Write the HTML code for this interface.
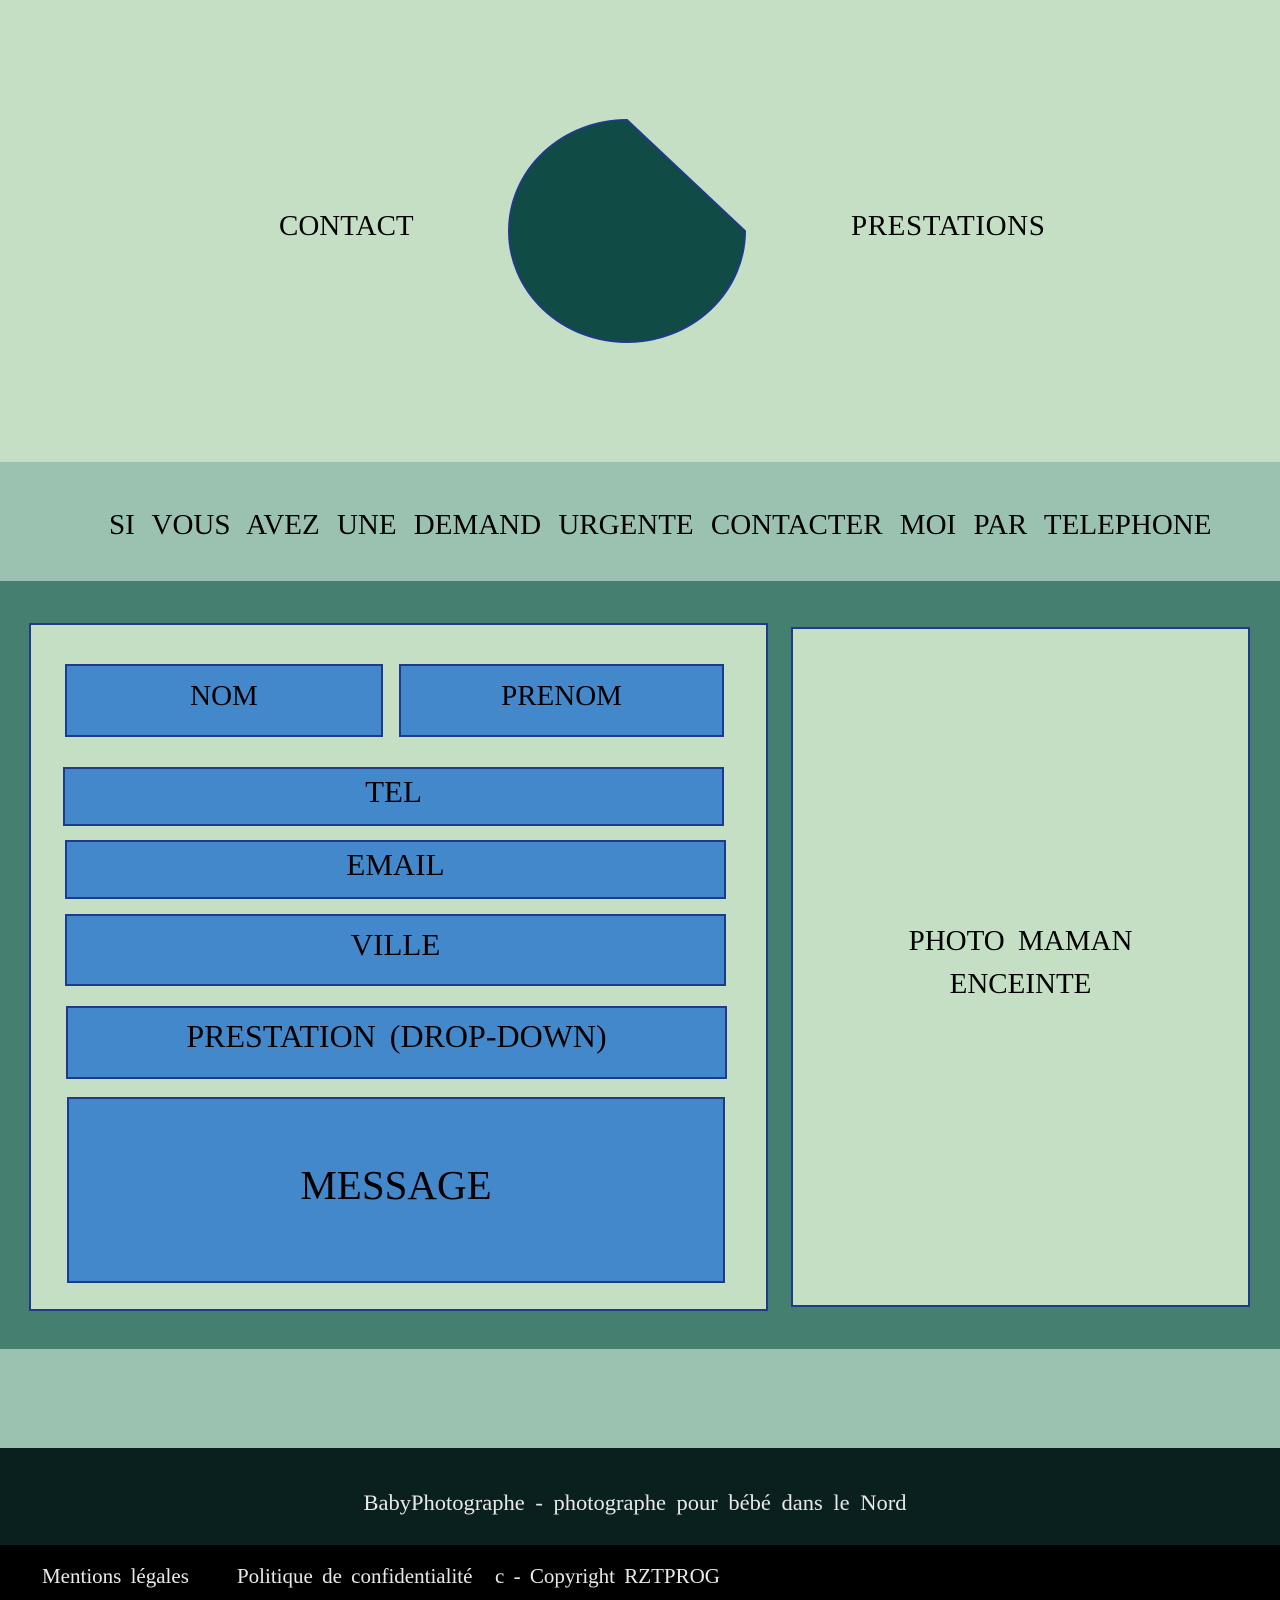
<!DOCTYPE html>
<html><head><meta charset="utf-8"><style>
*{margin:0;padding:0;box-sizing:border-box}
body{width:1280px;height:1600px;position:relative;overflow:hidden;font-family:"Liberation Serif",serif;color:#000}
.a{position:absolute}
.band{position:absolute;left:0;width:1280px}
.f{position:absolute;background:#4488cc;border:2px solid #1f3a8a;text-align:center;font-size:30px}
.t{position:absolute;white-space:nowrap;word-spacing:6px}
</style></head><body>
<div class="band" style="top:0;height:462px;background:#c5dfc5"></div>
<div class="band" style="top:462px;height:119px;background:#9bc2b0"></div>
<div class="band" style="top:581px;height:768px;background:#457f70"></div>
<div class="band" style="top:1349px;height:99px;background:#9bc2b0"></div>
<div class="band" style="top:1448px;height:97px;background:#0a201f"></div>
<div class="band" style="top:1545px;height:55px;background:#000"></div>

<svg class="a" style="left:0;top:0" width="1280" height="462">
<path d="M627,120 L745,231 A118,111 0 1 1 627,120 Z" fill="#114b45" stroke="#1f3a8a" stroke-width="2"/>
</svg>
<div class="t" style="left:279px;top:210px;font-size:29px">CONTACT</div>
<div class="t" style="left:851px;top:210px;font-size:29px;letter-spacing:0.6px">PRESTATIONS</div>
<div class="t" style="left:109px;top:509px;font-size:29px;word-spacing:10px">SI VOUS AVEZ UNE DEMAND URGENTE CONTACTER MOI PAR TELEPHONE</div>

<div class="a" style="left:29px;top:623px;width:739px;height:688px;background:#c5dfc5;border:2px solid #1f3a8a"></div>
<div class="a" style="left:791px;top:627px;width:459px;height:680px;background:#c5dfc5;border:2px solid #1f3a8a"></div>

<div class="f" style="left:65px;top:664px;width:318px;height:73px;padding-top:14px;font-size:29px">NOM</div>
<div class="f" style="left:399px;top:664px;width:325px;height:73px;padding-top:14px;font-size:29px">PRENOM</div>
<div class="f" style="left:63px;top:767px;width:661px;height:59px;padding-top:5px;font-size:31px">TEL</div>
<div class="f" style="left:65px;top:840px;width:661px;height:59px;padding-top:5px;font-size:31px">EMAIL</div>
<div class="f" style="left:65px;top:914px;width:661px;height:72px;padding-top:11px;font-size:31px">VILLE</div>
<div class="f" style="left:66px;top:1006px;width:661px;height:73px;padding-top:10px;word-spacing:6px;font-size:32px">PRESTATION (DROP-DOWN)</div>
<div class="f" style="left:67px;top:1097px;width:658px;height:186px;padding-top:62px;font-size:41px">MESSAGE</div>

<div class="a" style="left:791px;top:920px;width:459px;text-align:center;font-size:29px;line-height:43px;word-spacing:6px">PHOTO MAMAN<br>ENCEINTE</div>

<div class="a" style="left:0;top:1490px;width:1270px;text-align:center;font-size:22.5px;color:#e8e8e8;word-spacing:5px">BabyPhotographe - photographe pour bébé dans le Nord</div>
<div class="t" style="left:42px;top:1564px;font-size:21px;color:#e8e8e8;word-spacing:4px">Mentions légales</div>
<div class="t" style="left:237px;top:1564px;font-size:21px;color:#e8e8e8;word-spacing:4px">Politique de confidentialité</div>
<div class="t" style="left:495px;top:1564px;font-size:21px;color:#e8e8e8;word-spacing:4px">c - Copyright RZTPROG</div>
</body></html>
